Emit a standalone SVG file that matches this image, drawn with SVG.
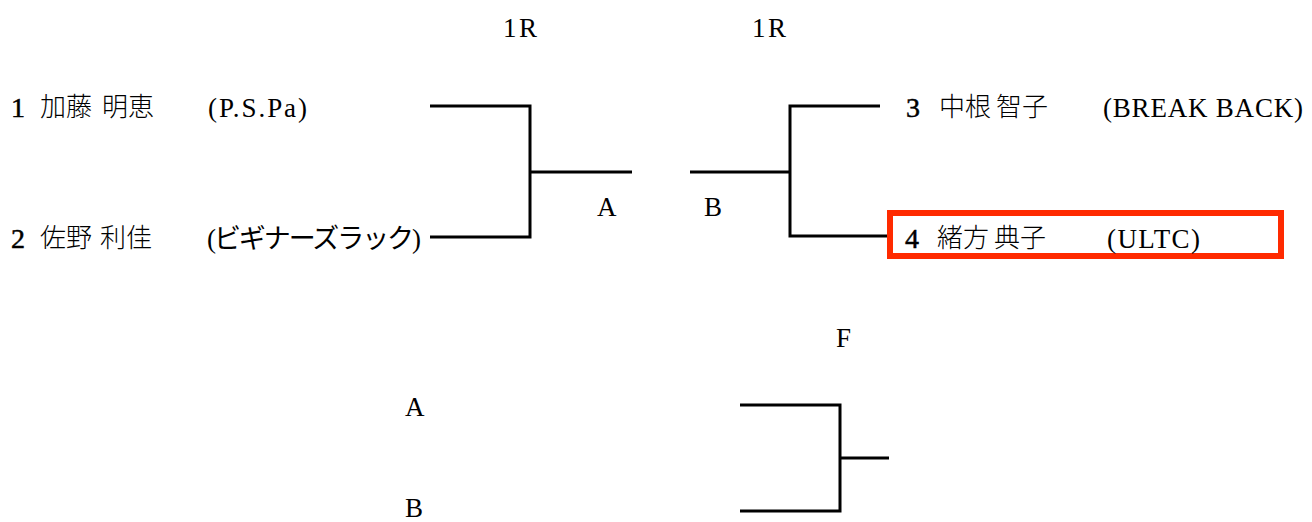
<svg xmlns="http://www.w3.org/2000/svg" width="1312" height="522" viewBox="0 0 1312 522">
<style>
text{font-family:"Liberation Serif","Noto Sans CJK JP",serif;font-size:27px;fill:#000}
.cj{font-family:"Noto Sans CJK JP",sans-serif;font-size:26px;font-weight:300}
.num{font-size:28px;stroke:#000;stroke-width:0.5}
.ln{stroke:#000;stroke-width:3;fill:none}
.hl{stroke:#ff2a00;stroke-width:6;fill:none}
</style>
<rect width="1312" height="522" fill="#fff"/>
<g id="labels">
<text x="503" y="37" textLength="34">1R</text>
<text x="752" y="37" textLength="34">1R</text>
<text x="597" y="216">A</text>
<text x="704" y="216">B</text>
<text x="836" y="347">F</text>
<text x="405" y="416">A</text>
<text x="405" y="517">B</text>
</g>
<g id="p1"><text class="num" x="11" y="117">1</text><text class="cj" x="40" y="116">加藤</text><text class="cj" x="102" y="116">明恵</text><text x="208" y="117" textLength="99">(P.S.Pa)</text></g>
<g id="p2"><text class="num" x="11" y="248">2</text><text class="cj" x="40" y="247">佐野</text><text class="cj" x="100" y="247">利佳</text><text x="207" y="248" textLength="214">(ビギナーズラック)</text></g>
<g id="p3"><text class="num" x="906" y="117">3</text><text class="cj" x="939" y="116">中根</text><text class="cj" x="996" y="116">智子</text><text x="1103" y="117" textLength="200">(BREAK BACK)</text></g>
<g id="p4"><rect class="hl" x="890" y="213" width="391" height="43"/><text class="num" x="905" y="248">4</text><text class="cj" x="937" y="247">緒方</text><text class="cj" x="994" y="247">典子</text><text x="1107" y="248" textLength="93">(ULTC)</text></g>
<g id="connectors">
<path class="ln" d="M430 106H530V237H430M530 172H632"/>
<path class="ln" d="M880 106H790V236H887M790 172H690"/>
<path class="ln" d="M740 405H840V511H740M840 458H889"/>
</g>
</svg>
